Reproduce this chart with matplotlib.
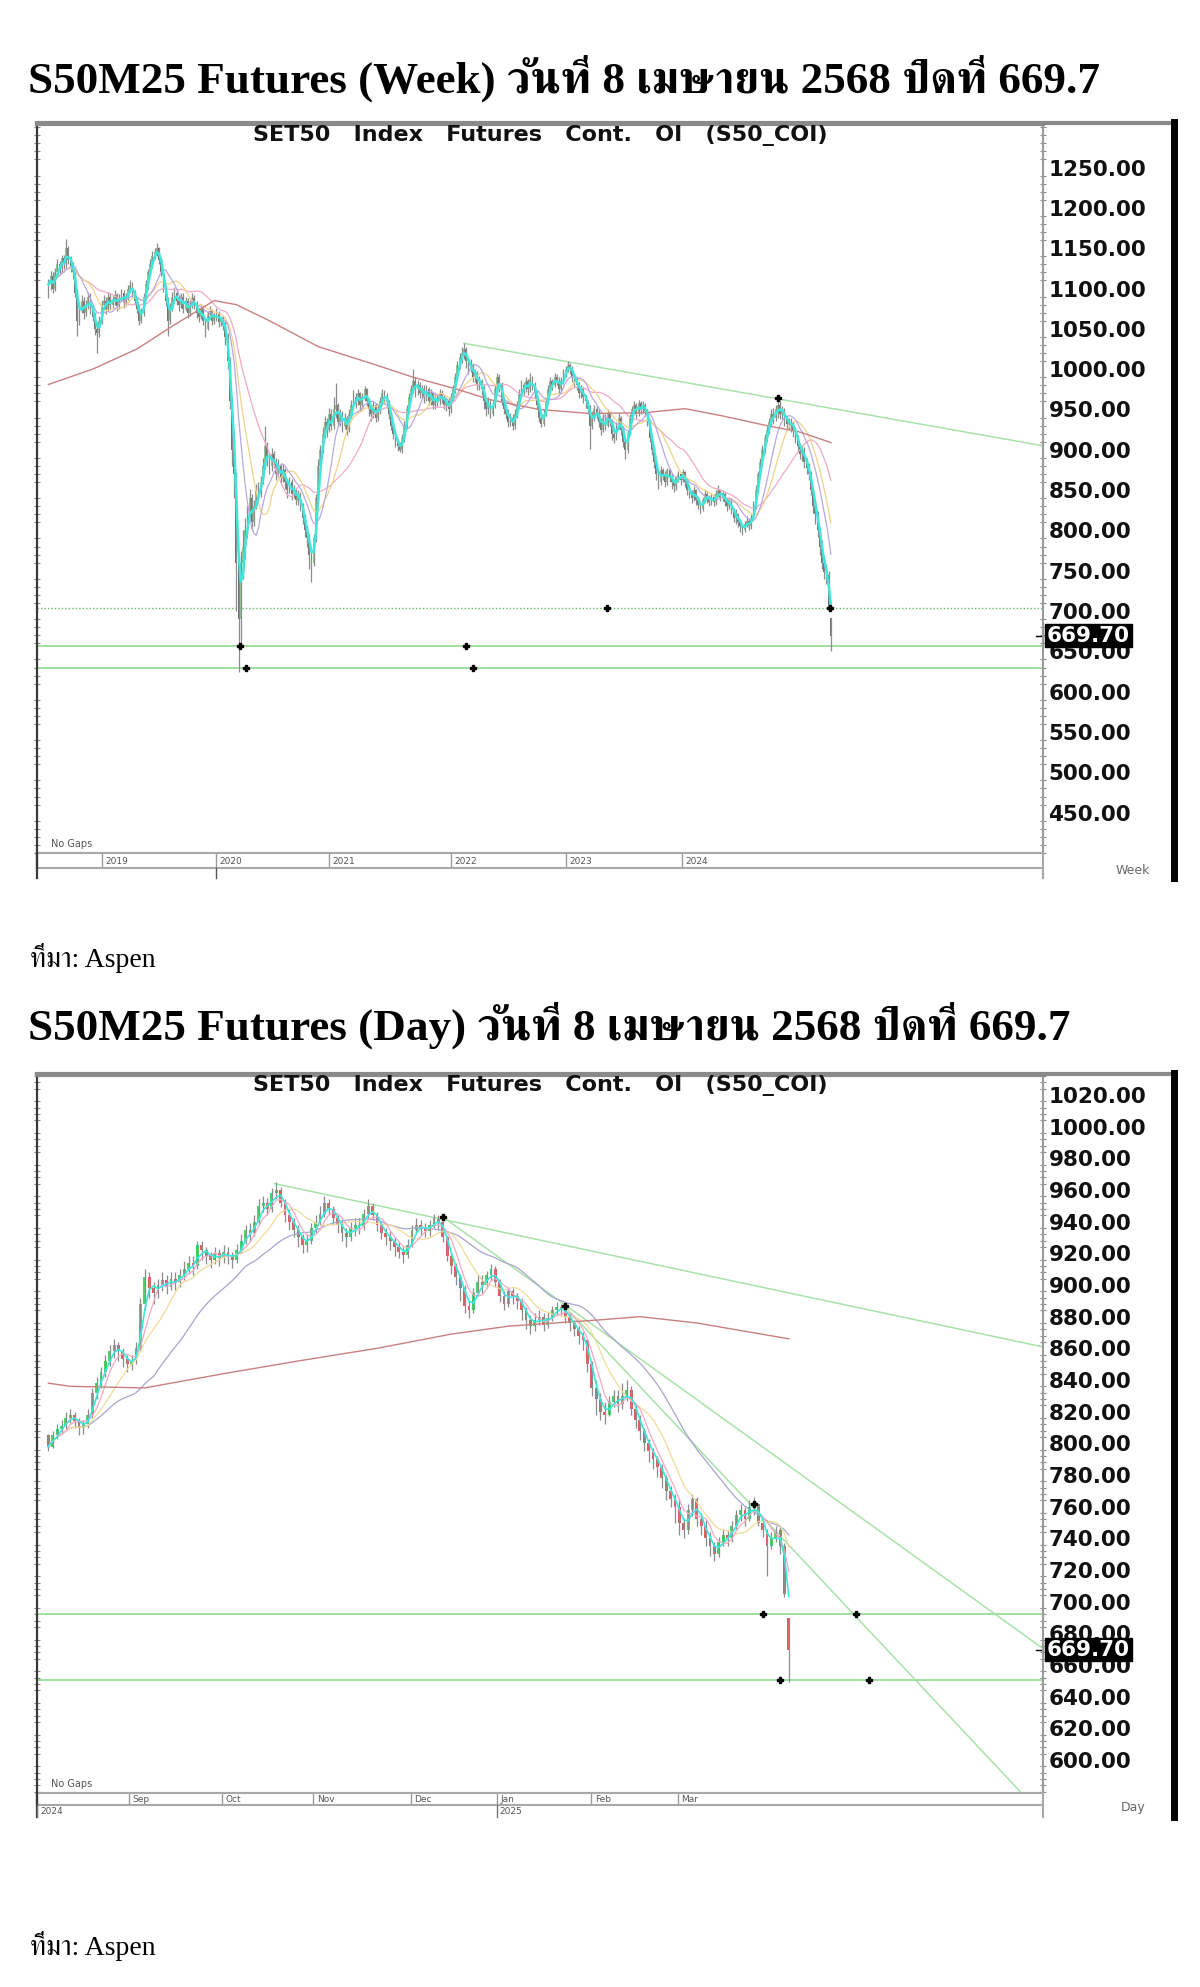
import numpy as np
import pandas as pd
import matplotlib
matplotlib.use("Agg")
import matplotlib.pyplot as plt
from matplotlib import font_manager
from matplotlib.ft2font import FT2Font
from matplotlib.lines import Line2D
from matplotlib.ticker import MultipleLocator
from matplotlib.transforms import blended_transform_factory

W, H = 1200, 1987

TITLE_WEEK = "S50M25 Futures (Week) วันที่ 8 เมษายน 2568 ปิดที่ 669.7"
TITLE_DAY = "S50M25 Futures (Day) วันที่ 8 เมษายน 2568 ปิดที่ 669.7"
SOURCE = "ที่มา: Aspen"
CHART_TITLE = "SET50   Index   Futures   Cont.   OI   (S50_COI)"
LAST_PRICE = 669.7

# weekly bars, mid 2018 -> 8 Apr 2025
WEEK_CLOSE = [
    1105, 1115, 1100, 1120, 1130, 1125, 1138, 1130, 1150, 1135,
    1128, 1120, 1095, 1060, 1075, 1085, 1070, 1080, 1090, 1075,
    1065, 1050, 1045, 1060, 1080, 1085, 1075, 1090, 1080, 1085,
    1092, 1078, 1088, 1095, 1082, 1090, 1100, 1104, 1095, 1085,
    1075, 1060, 1070, 1090, 1105, 1120, 1130, 1140, 1145, 1150,
    1135, 1120, 1100, 1085, 1060, 1075, 1090, 1095, 1085, 1080,
    1090, 1075, 1085, 1070, 1080, 1088, 1080, 1070, 1065, 1075,
    1060, 1050, 1068, 1072, 1060, 1065, 1070, 1058, 1062, 1055,
    1040, 1010, 960, 900, 870, 760, 690, 760, 780, 800,
    820, 840, 810, 830, 850, 845, 860, 880, 905, 890,
    880, 895, 885, 870, 880, 865, 875, 860, 850, 860,
    845, 850, 838, 845, 830, 815, 800, 790, 770, 760,
    790, 840, 880, 900, 920, 935, 925, 945, 930, 950,
    955, 935, 945, 930, 940, 925, 945, 955, 965, 960,
    970, 955, 965, 975, 960, 950, 945, 955, 940, 950,
    960, 970, 965, 960, 945, 930, 920, 910, 905, 900,
    915, 930, 950, 965, 975, 985, 975, 980, 970, 975,
    965, 975, 960, 970, 955, 965, 960, 970, 965, 955,
    960, 950, 965, 975, 990, 1005, 1015, 1020, 1025, 1010,
    1000, 1005, 990, 995, 980, 985, 975, 960, 950, 960,
    945, 955, 975, 990, 980, 960, 950, 945, 935, 940,
    930, 945, 955, 970, 980, 975, 985, 975, 988, 980,
    970, 955, 940, 932, 945, 960, 975, 985, 980, 990,
    985, 975, 985, 995, 1000, 1005, 1000, 990, 985, 980,
    970, 975, 965, 960, 950, 930, 940, 950, 945, 935,
    925, 940, 930, 945, 935, 920, 915, 930, 940, 925,
    910, 900, 920, 940, 950, 955, 945, 958, 950, 955,
    948, 935, 915, 900, 885, 870, 860, 875, 870, 860,
    875, 865, 860, 855, 865, 870, 862, 872, 860, 850,
    845, 840, 850, 838, 832, 826, 838, 845, 840, 835,
    842, 835, 845, 850, 840, 845, 835, 830, 838, 825,
    815, 820, 810, 805, 800, 808, 812, 805, 815, 830,
    850, 870, 885, 900, 915, 925, 935, 945, 940, 950,
    955, 945, 948, 938, 932, 935, 930, 925, 915, 905,
    895, 900, 885, 878, 870, 850, 830, 820, 800, 780,
    760, 748, 745, 705, 669.7,
]
WEEK_HIGH = [
    1112, 1122, 1120, 1126, 1136, 1134, 1142, 1141, 1162, 1153,
    1140, 1133, 1124, 1100, 1080, 1092, 1090, 1086, 1096, 1094,
    1080, 1070, 1058, 1066, 1086, 1092, 1090, 1096, 1094, 1091,
    1098, 1095, 1093, 1100, 1098, 1094, 1104, 1110, 1108, 1098,
    1090, 1080, 1076, 1094, 1110, 1124, 1136, 1146, 1150, 1156,
    1152, 1138, 1124, 1104, 1090, 1082, 1096, 1102, 1099, 1092,
    1095, 1094, 1090, 1088, 1086, 1094, 1092, 1084, 1076, 1080,
    1078, 1064, 1072, 1078, 1075, 1070, 1076, 1072, 1066, 1066,
    1060, 1045, 1015, 965, 905, 872, 770, 775, 800, 815,
    830, 852, 845, 838, 858, 860, 868, 890, 930, 910,
    896, 902, 898, 890, 888, 884, 882, 878, 864, 866,
    864, 856, 852, 850, 848, 834, 820, 806, 795, 778,
    796, 845, 888, 906, 928, 942, 940, 952, 950, 965,
    983, 958, 950, 948, 946, 942, 950, 962, 974, 970,
    976, 972, 970, 979, 977, 964, 955, 960, 958, 956,
    966, 975, 974, 970, 962, 948, 934, 924, 914, 910,
    920, 936, 955, 970, 980, 1000, 990, 986, 984, 980,
    980, 980, 978, 975, 972, 970, 968, 975, 974, 968,
    966, 964, 970, 980, 995, 1010, 1020, 1028, 1032, 1028,
    1014, 1012, 1008, 1000, 998, 992, 988, 980, 964, 966,
    962, 960, 980, 995, 994, 984, 964, 956, 950, 946,
    944, 950, 960, 976, 986, 984, 990, 988, 995, 992,
    984, 974, 958, 944, 950, 965, 980, 990, 988, 995,
    994, 990, 990, 1000, 1004, 1010, 1008, 1004, 994, 990,
    984, 980, 978, 968, 962, 955, 948, 956, 954, 950,
    940, 945, 944, 950, 948, 938, 926, 935, 946, 942,
    928, 915, 925, 945, 954, 960, 958, 962, 960, 960,
    958, 950, 938, 918, 904, 888, 874, 880, 878, 874,
    878, 878, 870, 864, 868, 874, 872, 876, 874, 862,
    856, 850, 855, 852, 840, 836, 842, 850, 848, 844,
    846, 845, 850, 856, 852, 850, 848, 838, 842, 840,
    828, 826, 822, 814, 808, 812, 818, 814, 820, 836,
    856, 874, 890, 906, 920, 930, 940, 950, 952, 956,
    963, 960, 954, 952, 942, 940, 940, 934, 928, 918,
    908, 906, 904, 890, 884, 874, 852, 838, 824, 804,
    788, 766, 758, 750, 691,
]
WEEK_LOW = [
    1088, 1098, 1094, 1097, 1115, 1118, 1120, 1124, 1126, 1130,
    1120, 1112, 1090, 1041, 1055, 1070, 1062, 1066, 1074, 1068,
    1060, 1042, 1020, 1040, 1056, 1074, 1068, 1072, 1074, 1076,
    1080, 1072, 1074, 1084, 1076, 1078, 1086, 1096, 1090, 1080,
    1070, 1055, 1057, 1066, 1086, 1100, 1116, 1126, 1136, 1140,
    1130, 1115, 1096, 1078, 1041, 1056, 1072, 1084, 1080, 1072,
    1076, 1070, 1072, 1064, 1066, 1076, 1074, 1064, 1058, 1062,
    1055, 1040, 1048, 1062, 1055, 1056, 1060, 1052, 1054, 1048,
    1030, 1000, 950, 880, 840, 700, 625, 660, 740, 765,
    790, 815, 800, 805, 826, 836, 842, 858, 876, 880,
    870, 874, 878, 862, 866, 858, 860, 852, 840, 846,
    838, 840, 832, 832, 824, 808, 792, 780, 752, 736,
    756, 786, 836, 876, 896, 915, 916, 922, 924, 926,
    940, 928, 930, 922, 926, 918, 922, 940, 950, 952,
    955, 948, 950, 960, 954, 942, 936, 940, 934, 936,
    945, 956, 958, 952, 938, 924, 914, 904, 898, 897,
    896, 910, 926, 946, 960, 970, 966, 968, 964, 964,
    958, 960, 955, 956, 950, 950, 954, 956, 958, 950,
    948, 942, 946, 960, 970, 986, 1000, 1008, 1012, 1002,
    994, 996, 984, 984, 974, 974, 968, 950, 942, 944,
    940, 942, 952, 970, 972, 955, 944, 938, 928, 930,
    925, 926, 940, 952, 966, 968, 972, 968, 972, 974,
    964, 950, 934, 928, 930, 942, 958, 970, 974, 978,
    980, 970, 972, 982, 990, 996, 994, 984, 978, 974,
    964, 964, 958, 952, 944, 901, 926, 936, 938, 928,
    918, 922, 924, 928, 930, 912, 908, 912, 926, 918,
    904, 888, 896, 918, 936, 944, 940, 942, 944, 946,
    942, 930, 910, 894, 878, 862, 851, 856, 862, 854,
    856, 860, 852, 848, 850, 860, 856, 860, 854, 844,
    840, 834, 836, 832, 826, 822, 824, 834, 834, 830,
    832, 830, 832, 840, 836, 836, 830, 824, 826, 820,
    810, 808, 804, 798, 794, 798, 804, 800, 802, 814,
    826, 846, 866, 880, 896, 910, 920, 930, 932, 936,
    940, 938, 938, 930, 925, 926, 922, 916, 908, 898,
    888, 886, 878, 870, 862, 844, 822, 808, 792, 770,
    752, 740, 734, 700, 650,
]
WEEK_FIRST_OPEN = 1095
WEEK_LAST_OPEN = 691
# long moving average (week index, value)
WEEK_LONG_MA_X = [0, 20, 40, 57, 75, 85, 100, 122, 145, 165, 185, 200, 222, 245, 270, 288, 305, 325, 340, 354]
WEEK_LONG_MA_Y = [981, 1000, 1025, 1055, 1085, 1080, 1060, 1028, 1008, 990, 975, 962, 950, 945, 946, 951, 942, 930, 922, 909]
WEEK_YEAR_POS = [24.4, 75.8, 127, 182, 234, 286.6]
WEEK_YEAR_LABELS = ["2019", "2020", "2021", "2022", "2023", "2024"]
WEEK_TREND = [((188, 1032), (450, 905))]
WEEK_LEVELS = [704, 657, 630]
WEEK_MARKS_X = [86.8, 188.8, 89.5, 192, 252.7, 353.6, 330]
WEEK_MARKS_Y = [657, 657, 630, 630, 704, 704, 964]
WEEK_TICKS = list(range(450, 1251, 50))

# daily bars, 6 Aug 2024 -> 8 Apr 2025
DAY_CLOSE = [
    798, 805, 809, 811, 816, 818, 814, 810, 812, 818,
    832, 838, 845, 852, 858, 862, 858, 853, 850, 852,
    860, 888, 905, 898, 895, 900, 903, 899, 904, 902,
    906, 910, 914, 912, 925, 922, 918, 916, 920, 917,
    921, 918, 916, 922, 928, 935, 933, 940, 950, 952,
    948, 958, 960, 952, 944, 940, 935, 930, 925, 928,
    936, 940, 945, 952, 948, 942, 938, 933, 930, 936,
    938, 937, 945, 950, 944, 938, 933, 930, 928, 924,
    921, 919, 925, 935, 938, 936, 934, 938, 942, 940,
    930, 918, 912, 905, 898, 887, 884, 895, 902, 900,
    906, 910, 902, 893, 888, 896, 893, 890, 884, 878,
    874, 878, 880, 875, 879, 884, 886, 885, 880, 876,
    872, 868, 865, 850, 835, 828, 820, 818, 826, 830,
    825, 830, 834, 822, 815, 808, 800, 795, 790, 785,
    778, 770, 765, 760, 750, 745, 758, 765, 752, 748,
    740, 735, 730, 738, 742, 740, 748, 755, 758, 752,
    760, 762, 750, 745, 735, 740, 745, 735, 705, 669.7,
]
DAY_HIGH = [
    806, 808, 812, 815, 820, 822, 820, 816, 815, 822,
    835, 842, 848, 856, 862, 866, 864, 860, 856, 856,
    864, 892, 910, 908, 902, 904, 908, 906, 908, 908,
    910, 915, 918, 918, 928, 928, 924, 921, 924, 923,
    925, 924, 921, 926, 932, 938, 939, 944, 954, 956,
    955, 961, 965, 962, 954, 948, 942, 938, 932, 932,
    939, 944, 950, 956, 954, 950, 944, 941, 936, 940,
    942, 942, 948, 954, 952, 946, 940, 936, 934, 930,
    927, 924, 929, 938, 942, 941, 939, 941, 945, 944,
    941, 931, 920, 914, 907, 900, 890, 898, 906, 906,
    909, 913, 912, 904, 896, 899, 898, 895, 892, 886,
    881, 882, 884, 882, 883, 887, 889, 888, 886, 882,
    878, 874, 870, 866, 852, 840, 832, 826, 830, 834,
    834, 838, 840, 836, 825, 818, 810, 803, 797, 792,
    787, 780, 773, 768, 765, 753, 762, 768, 766, 756,
    752, 744, 738, 741, 746, 745, 751, 758, 762, 760,
    764, 766, 762, 752, 746, 744, 748, 747, 737, 690,
]
DAY_LOW = [
    795, 797, 803, 806, 809, 813, 810, 805, 806, 810,
    816, 828, 835, 842, 849, 854, 852, 848, 845, 846,
    850, 858, 884, 892, 888, 892, 896, 894, 897, 897,
    899, 903, 907, 906, 910, 916, 913, 911, 913, 912,
    914, 913, 911, 914, 920, 926, 928, 931, 938, 946,
    944, 946, 954, 949, 940, 935, 930, 924, 920, 921,
    926, 933, 938, 943, 944, 938, 933, 928, 924, 928,
    931, 932, 935, 942, 941, 934, 929, 925, 922, 918,
    917, 914, 917, 924, 932, 931, 930, 931, 936, 935,
    927, 915, 907, 900, 890, 882, 879, 882, 893, 895,
    898, 903, 899, 889, 884, 886, 888, 885, 878, 872,
    869, 871, 875, 871, 873, 877, 881, 881, 876, 871,
    868, 863, 859, 845, 830, 818, 815, 812, 817, 823,
    820, 822, 827, 818, 810, 802, 795, 788, 784, 779,
    772, 764, 760, 750, 742, 740, 743, 754, 748, 742,
    735, 729, 726, 728, 735, 735, 738, 746, 751, 748,
    751, 755, 748, 741, 716, 733, 738, 730, 703, 649.5,
]
DAY_FIRST_OPEN = 805
DAY_LAST_OPEN = 690
DAY_LONG_MA_X = [0, 5, 22, 40, 57, 75, 92, 105, 126, 135, 148, 169]
DAY_LONG_MA_Y = [838, 836, 835, 844, 852, 860, 869, 874, 878, 880, 876, 866]
DAY_MONTH_POS = [18.3, 39.7, 60.5, 82.7, 102.3, 123.9, 143.7]
DAY_MONTH_LABELS = ["Sep", "Oct", "Nov", "Dec", "Jan", "Feb", "Mar"]
DAY_YEAR_POS = [-2.6, 102.3]
DAY_YEAR_LABELS = ["2024", "2025"]
DAY_TREND = [((51.6, 964), (227, 860.9)), ((90, 943), (227, 670.4)), ((118, 886), (222.5, 578))]
DAY_LEVELS = [692.2, 650.5]
DAY_MARKS_X = [163, 184.4, 167, 187.4, 90, 118, 161]
DAY_MARKS_Y = [692.2, 692.2, 650.5, 650.5, 943, 887, 762]
DAY_TICKS = list(range(600, 1021, 20))


def find_thai_font():
    serif, other = [], []
    for f in font_manager.fontManager.ttflist:
        try:
            cmap = FT2Font(f.fname).get_charmap()
        except Exception:
            continue
        if 0x0E17 in cmap and 0x0E48 in cmap:
            (serif if "Serif" in f.name else other).append(f.name)
    found = serif + other
    return found[0] if found else None


thai = find_thai_font()
TITLE_FONT = ["Liberation Serif"] + ([thai] if thai else []) + ["DejaVu Sans"]

fig = plt.figure(figsize=(W / 100, H / 100), dpi=100)


def fx(x):
    return x / W


def fy(y):
    return 1 - y / H


def fig_line(x0, y0, x1, y1, **kw):
    fig.add_artist(Line2D([fx(x0), fx(x1)], [fy(y0), fy(y1)], transform=fig.transFigure, **kw))


def draw_chart(top, bot, band_bot, frame_bot, xlim, ylim, close, high, low, first_open, last_open,
               up_col, dn_col, body_w, ma_list, long_x, long_y, trends, levels, dotted_level,
               marks_x, marks_y, ticks, minor, cyan_w, tf_label):
    left, right = 37, 1043
    ax = fig.add_axes([fx(left), fy(bot), fx(right) - fx(left), fy(top) - fy(bot)])
    close = np.array(close, dtype=float)
    high = np.array(high, dtype=float)
    low = np.array(low, dtype=float)
    opens = np.concatenate([[first_open], close[:-1]])
    opens[-1] = last_open
    x = np.arange(len(close))

    # horizontal levels and trend lines sit under the bars
    for lv in levels:
        if lv == dotted_level:
            ax.axhline(lv, color="#5fbf5f", lw=1.0, ls=(0, (1, 1.5)))
        else:
            ax.axhline(lv, color="#9fe09f", lw=1.4)
    for (x0, y0), (x1, y1) in trends:
        ax.plot([x0, x1], [y0, y1], color="#a8e2a8", lw=1.1)

    ax.vlines(x, low, high, color="#8c8c8c", lw=0.9)
    up = close >= opens
    ax.bar(x[up], (close - opens)[up], bottom=opens[up], width=body_w, color=up_col, lw=0)
    ax.bar(x[~up], (opens - close)[~up], bottom=close[~up], width=body_w, color=dn_col, lw=0)

    s = pd.Series(close)
    for n, col, lw in ma_list:
        ax.plot(x, s.rolling(n, min_periods=1).mean(), color=col, lw=lw)
    ax.plot(long_x, long_y, color="#c98080", lw=1.0)
    ax.plot(x, s.rolling(3, min_periods=1).mean(), color="#3fe6dc", lw=cyan_w)

    ax.plot(marks_x, marks_y, ls="none", marker="P", ms=5, color="black")

    ax.set_xlim(*xlim)
    ax.set_ylim(*ylim)
    ax.set_xticks([])
    ax.yaxis.tick_right()
    ax.set_yticks(ticks)
    ax.set_yticklabels([f"{t:.2f}" for t in ticks], fontsize=15.5, fontweight="bold",
                       family="DejaVu Sans", color="#111111")
    ax.yaxis.set_minor_locator(MultipleLocator(minor))
    ax.tick_params(axis="y", which="major", length=0, pad=4)
    ax.tick_params(axis="y", which="minor", left=True, right=True, direction="inout",
                   length=4, width=0.8, color="#8a8a8a")
    ax.spines["top"].set_color("#8a8a8a")
    ax.spines["top"].set_linewidth(3)
    ax.spines["right"].set_color("#9a9a9a")
    ax.spines["right"].set_linewidth(1.5)
    ax.spines["left"].set_color("#3a3a3a")
    ax.spines["left"].set_linewidth(1.6)
    ax.spines["bottom"].set_color("#a8a8a8")
    ax.spines["bottom"].set_linewidth(1.5)

    ax.text(0.014, 0.006, "No Gaps", transform=ax.transAxes, fontsize=7, color="#555555", va="bottom")

    tr = blended_transform_factory(ax.transAxes, ax.transData)
    ax.text(1.004, LAST_PRICE, f"{LAST_PRICE:.2f}", transform=tr, fontsize=15.5, fontweight="bold",
            family="DejaVu Sans", color="white", va="center", ha="left",
            bbox=dict(boxstyle="square,pad=0.08", fc="black", ec="black"), zorder=5)
    ax.plot([0.993, 1.0], [LAST_PRICE, LAST_PRICE], transform=tr, color="black", lw=1, clip_on=False)

    band = fig.add_axes([fx(left), fy(band_bot), fx(right) - fx(left), fy(bot) - fy(band_bot)])
    band.set_xlim(*xlim)
    band.set_ylim(0, 1)
    band.set_xticks([])
    band.set_yticks([])
    for sp in ["top", "bottom", "right"]:
        band.spines[sp].set_color("#a8a8a8")
        band.spines[sp].set_linewidth(1.5)
    band.spines["left"].set_color("#3a3a3a")
    band.spines["left"].set_linewidth(1.6)

    # outer frame
    fig_line(left, top - 1, 1174, top - 1, color="#8a8a8a", lw=3)
    fig_line(left, bot, left, frame_bot, color="#3a3a3a", lw=1.6)
    fig_line(right, band_bot, right, frame_bot, color="#a8a8a8", lw=1.5)
    fig_line(1174, top - 2, 1174, frame_bot, color="black", lw=5)
    fig.text(fx(1133), fy((band_bot + frame_bot) / 2 - 3), tf_label, fontsize=9, color="#666666",
             ha="center", va="center")
    fig.text(fx(540), fy(top + 11), CHART_TITLE, fontsize=16, fontweight="bold",
             family="DejaVu Sans", ha="center", va="center", color="#111111")
    return ax, band


# ---- weekly chart ----
wax, wband = draw_chart(
    124, 853, 868, 878, (-5.2, 450), (400, 1304),
    WEEK_CLOSE, WEEK_HIGH, WEEK_LOW, WEEK_FIRST_OPEN, WEEK_LAST_OPEN,
    "#8fcf8f", "#707070", 0.8,
    [(26, "#f2a9c6", 0.9), (15, "#f0d38a", 0.9), (10, "#b9a8e0", 0.9)],
    WEEK_LONG_MA_X, WEEK_LONG_MA_Y, WEEK_TREND, WEEK_LEVELS, 704,
    WEEK_MARKS_X, WEEK_MARKS_Y, WEEK_TICKS, 10, 1.8, "Week")
wband.vlines(WEEK_YEAR_POS, 0, 1, color="#9a9a9a", lw=1)
for p, lab in zip(WEEK_YEAR_POS, WEEK_YEAR_LABELS):
    wband.text(p + 1.5, 0.45, lab, fontsize=6.5, color="#555555", va="center")
x2020 = 37 + (WEEK_YEAR_POS[1] + 5.2) / (450 + 5.2) * (1043 - 37)
fig_line(x2020, 868, x2020, 878, color="#555555", lw=1)

# ---- daily chart ----
dax, dband = draw_chart(
    1075, 1793, 1805, 1817, (-2.6, 227), (579.2, 1032.6),
    DAY_CLOSE, DAY_HIGH, DAY_LOW, DAY_FIRST_OPEN, DAY_LAST_OPEN,
    "#45d865", "#e06060", 0.65,
    [(25, "#a8a4d0", 0.9), (10, "#f0dc98", 0.9), (5, "#f2a9c6", 0.9)],
    DAY_LONG_MA_X, DAY_LONG_MA_Y, DAY_TREND, DAY_LEVELS, None,
    DAY_MARKS_X, DAY_MARKS_Y, DAY_TICKS, 4, 1.2, "Day")
dband.vlines(DAY_MONTH_POS, 0, 1, color="#9a9a9a", lw=1)
for p, lab in zip(DAY_MONTH_POS, DAY_MONTH_LABELS):
    dband.text(p + 0.8, 0.45, lab, fontsize=6.5, color="#555555", va="center")
for p, lab in zip(DAY_YEAR_POS, DAY_YEAR_LABELS):
    xp = 37 + (p + 2.6) / (227 + 2.6) * (1043 - 37)
    fig_line(xp, 1805, xp, 1817, color="#777777", lw=1)
    fig.text(fx(xp + 3), fy(1811), lab, fontsize=6.5, color="#555555", va="center")

# ---- page text ----
fig.text(fx(28), fy(93), TITLE_WEEK, fontsize=32.5, fontweight="bold", family=TITLE_FONT, va="baseline")
fig.text(fx(28), fy(1040), TITLE_DAY, fontsize=32.5, fontweight="bold", family=TITLE_FONT, va="baseline")
fig.text(fx(30), fy(967), SOURCE, fontsize=20, family=TITLE_FONT, va="baseline")
fig.text(fx(30), fy(1955), SOURCE, fontsize=20, family=TITLE_FONT, va="baseline")

fig.savefig("out.png", dpi=100)
